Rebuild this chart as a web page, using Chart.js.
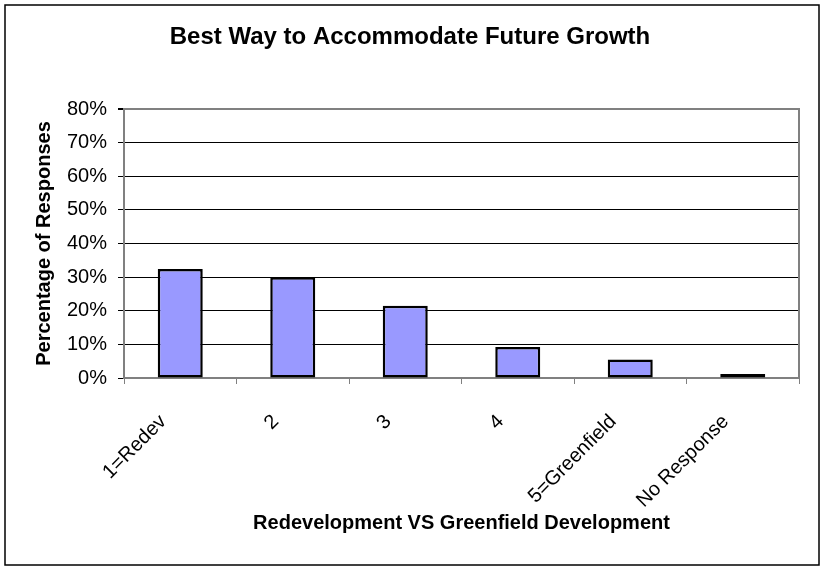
<!DOCTYPE html>
<html>
<head>
<meta charset="utf-8">
<script src="https://cdn.jsdelivr.net/npm/chart.js@4/dist/chart.umd.min.js"></script>
<style>
  html, body { margin: 0; padding: 0; background: #fff; }
  canvas { display: block; }
</style>
</head>
<body>
<canvas id="growth_chart" width="822" height="567"></canvas>
<script>
// survey answers
const categories = ['1=Redev', '2', '3', '4', '5=Greenfield', 'No Response'];
const responses = [32.4, 30.0, 21.5, 9.2, 5.5, 1.2];
const yTicks = [0, 10, 20, 30, 40, 50, 60, 70, 80];

const FONT = 'Arial, "Liberation Sans", sans-serif';
const GRAY = '#808080';

// black frame round the whole chart
const frame = {
  id: 'frame',
  afterDraw(chart) {
    const c = chart.ctx;
    c.save();
    c.strokeStyle = '#000';
    c.lineWidth = 1.5;
    c.strokeRect(5, 5, chart.width - 8, chart.height - 7);
    c.restore();
  }
};

window.addEventListener('DOMContentLoaded', () => {
  const ctx = document.getElementById('growth_chart').getContext('2d');

  const data = {
    labels: categories,
    datasets: [{
      data: responses,
      backgroundColor: '#9999FF',
      borderColor: '#000',
      borderWidth: 2.5,
      borderSkipped: false,
      barPercentage: 0.4,
      categoryPercentage: 1.0
    }]
  };

  const config = {
    type: 'bar',
    data: data,
    plugins: [frame],
    options: {
      responsive: false,
      animation: false,
      layout: {
        padding: { left: 21, right: 23, top: 0, bottom: 32 }
      },
      plugins: {
        legend: { display: false },
        tooltip: { enabled: false },
        title: {
          display: true,
          text: 'Best Way to Accommodate Future Growth',
          color: '#000',
          font: { family: FONT, size: 24, weight: 'bold' },
          padding: { top: 23, bottom: 57.2 }
        }
      },
      scales: {
        x: {
          ticks: {
            color: '#000',
            font: { family: FONT, size: 20 },
            autoSkip: false,
            minRotation: 45,
            maxRotation: 45,
            labelOffset: -17,
            padding: 26
          },
          grid: {
            drawOnChartArea: false,
            color: GRAY,
            tickLength: 6
          },
          border: { color: GRAY, width: 2 },
          title: {
            display: true,
            text: 'Redevelopment VS Greenfield Development',
            color: '#000',
            font: { family: FONT, size: 20, weight: 'bold' },
            padding: 0
          },
          afterFit(scale) { scale.height = 157; }
        },
        y: {
          min: 0,
          max: 80,
          afterBuildTicks(scale) {
            scale.ticks = yTicks.map(v => ({ value: v }));
          },
          ticks: {
            color: '#000',
            font: { family: FONT, size: 20 },
            padding: 11,
            callback: function(value) {
              return value + '%';
            }
          },
          grid: {
            color: (c) => (c.tick && c.tick.value === 80) ? GRAY : '#000',
            lineWidth: (c) => (c.tick && c.tick.value === 80) ? 2 : 1,
            tickColor: '#000',
            tickLength: 6
          },
          border: { color: GRAY, width: 2 },
          title: {
            display: true,
            text: 'Percentage of Responses',
            color: '#000',
            font: { family: FONT, size: 20, weight: 'bold' },
            padding: { top: 11, bottom: 0 }
          },
          afterFit(scale) { scale.width = 103; }
        },
        // right-hand edge of the plot
        y2: {
          position: 'right',
          min: 0,
          max: 80,
          ticks: { display: false },
          grid: { display: false, drawTicks: false },
          border: { color: GRAY, width: 2 },
          afterFit(scale) { scale.width = 0; }
        }
      }
    }
  };

  new Chart(ctx, config);
});
</script>
</body>
</html>
